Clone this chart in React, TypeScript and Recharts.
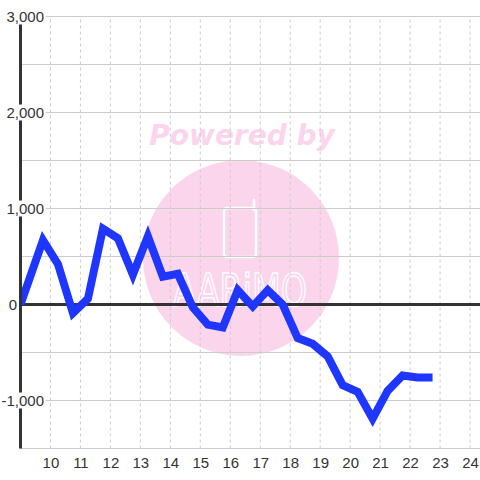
import {
  LineChart,
  Line,
  XAxis,
  YAxis,
  CartesianGrid,
  ReferenceLine,
} from "recharts";

// hours of the day (decimal), one point per half hour after the 9:00 start
const hours = [
  9, 9.75, 10.25, 10.75, 11.25, 11.75, 12.25, 12.75, 13.25, 13.75, 14.25,
  14.75, 15.25, 15.75, 16.25, 16.75, 17.25, 17.75, 18.25, 18.75, 19.25, 19.75,
  20.25, 20.75, 21.25, 21.75, 22.25, 22.75,
];
const values = [
  0, 670, 420, -90, 60, 790, 690, 310, 710, 290, 320, -30, -210, -240, 150,
  -20, 150, 0, -350, -410, -540, -840, -910, -1190, -900, -740, -760, -760,
];
const xTicks = [10, 11, 12, 13, 14, 15, 16, 17, 18, 19, 20, 21, 22, 23, 24];
const yTicks = [-1500, -1000, -500, 0, 500, 1000, 1500, 2000, 2500, 3000];

const chartData = hours.map((t, i) => ({ t, value: values[i] }));

const FONT = "'Liberation Sans', Arial, sans-serif";

function YTick(props: any) {
  const { x, y, payload } = props;
  const v = payload.value as number;
  if (v % 1000 !== 0) return null;
  const label = v.toLocaleString("en-US");
  const end = v === 0 ? x - 3.5 : x + 23.5;
  const w = label.length * 8;
  return (
    <g>
      <rect x={end - w - 2} y={y - 8} width={w + 4} height={16} fill="#fff" />
      <text
        x={end}
        y={y + 5.5}
        textAnchor="end"
        fontSize={15}
        fontFamily={FONT}
        fill="#333"
      >
        {label}
      </text>
    </g>
  );
}

function XTick(props: any) {
  const { x, y, payload } = props;
  return (
    <text
      x={x + 0.5}
      y={y + 19}
      textAnchor="middle"
      fontSize={15}
      fontFamily={FONT}
      fill="#333"
    >
      {payload.value}
    </text>
  );
}

function Watermark() {
  const pink = "#fbd5ec";
  return (
    <svg
      width={480}
      height={480}
      style={{ position: "absolute", left: 0, top: 0 }}
    >
      <text
        x={242}
        y={145}
        textAnchor="middle"
        fontSize={28}
        fontWeight="bold"
        fontStyle="italic"
        fontFamily="'DejaVu Sans', sans-serif"
        fill={pink}
      >
        Powered by
      </text>
      <circle cx={241} cy={258} r={98} fill={pink} />
      <rect
        x={224}
        y={208}
        width={32}
        height={49}
        rx={3}
        fill="none"
        stroke="#fff"
        strokeWidth={2.5}
      />
      <line x1={254} y1={200} x2={254} y2={210} stroke="#fff" strokeWidth={2.5} strokeLinecap="round" />
      <text
        x={240}
        y={306}
        textAnchor="middle"
        fontSize={44}
        fontFamily="'DejaVu Sans', sans-serif"
        textLength={134}
        lengthAdjust="spacingAndGlyphs"
        fill="none"
        stroke="#fff"
        strokeWidth={1.5}
      >
        AARiMO
      </text>
    </svg>
  );
}

export default function App() {
  return (
    <div
      style={{
        position: "absolute",
        left: 0,
        top: 0,
        width: 480,
        height: 480,
        background: "#fff",
      }}
    >
      <Watermark />
      <div style={{ position: "absolute", left: 0, top: 0 }}>
        <LineChart
          width={480}
          height={480}
          data={chartData}
          margin={{ top: 16.5, right: 0, bottom: 0, left: 19.5 }}
        >
          <CartesianGrid vertical={false} stroke="#ccc" />
          {xTicks.map((t) => (
            <ReferenceLine
              key={t}
              x={t}
              stroke="#ccc"
              strokeDasharray="3 3"
            />
          ))}
          <XAxis
            type="number"
            dataKey="t"
            domain={[9, 24.333]}
            ticks={xTicks}
            height={31.5}
            tickSize={0}
            tickMargin={0}
            tickLine={false}
            axisLine={{ stroke: "#ccc" }}
            tick={<XTick />}
            interval={0}
            allowDataOverflow
          />
          <YAxis
            type="number"
            domain={[-1500, 3000]}
            ticks={yTicks}
            width={1}
            tickSize={0}
            tickMargin={0}
            tickLine={false}
            axisLine={{ stroke: "#333", strokeWidth: 3 }}
            tick={<YTick />}
            interval={0}
          />
          <ReferenceLine y={0} stroke="#333" strokeWidth={3} />
          <Line
            type="linear"
            dataKey="value"
            stroke="#1f36ff"
            strokeWidth={8}
            dot={false}
            isAnimationActive={false}
          />
        </LineChart>
      </div>
    </div>
  );
}
